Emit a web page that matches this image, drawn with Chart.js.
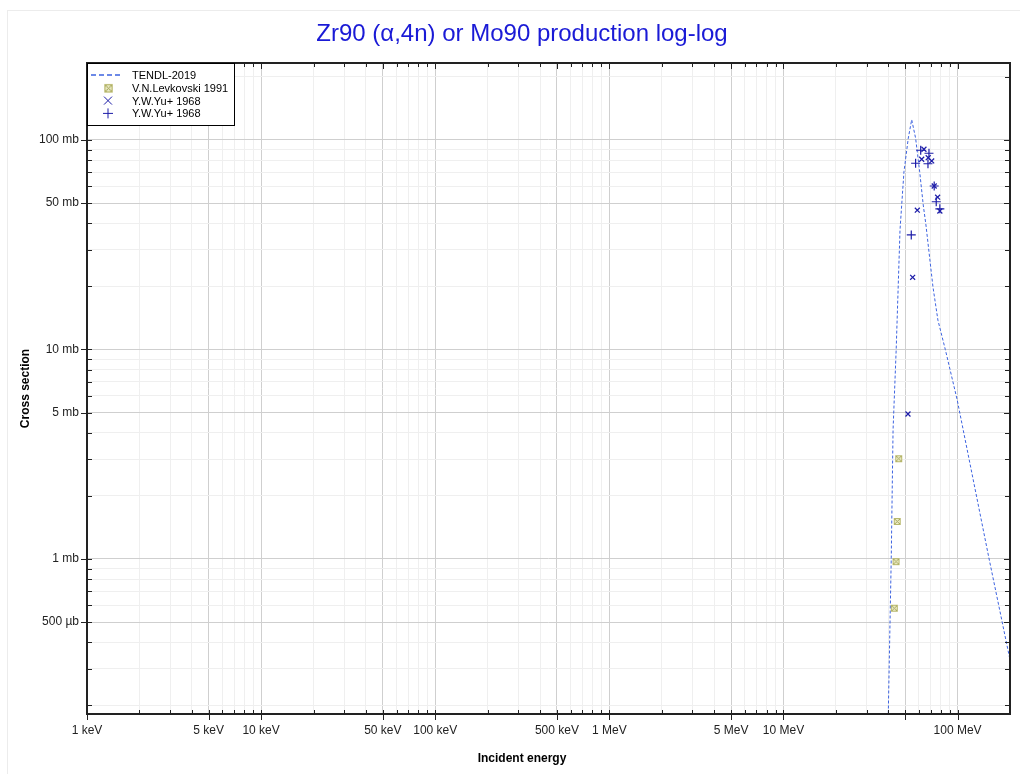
<!DOCTYPE html>
<html>
<head>
<meta charset="utf-8">
<script src="https://cdn.jsdelivr.net/npm/chart.js@4.4.1/dist/chart.umd.min.js"></script>
<style>
  body { margin: 0; background: #fff; }
  #wrap { position: relative; width: 1020px; height: 774px; overflow: hidden; }
  #frame { position: absolute; left: 7px; top: 10px; width: 1040px; height: 800px; border: 1px solid #ececec; }
  canvas { position: absolute; left: 0; top: 0; }
</style>
</head>
<body>
<div id="wrap"><div id="frame"></div><canvas id="myChart" width="1020" height="774"></canvas></div>
<script>
// energies in MeV, cross sections in mb
const tendlEnergy = [39.9, 40.0, 41.6, 42.6, 44.4, 46.7, 49.2, 52.1, 54.5, 57.4, 60.6, 63.5, 65.8, 72.2, 77.1, 85.0, 99.5, 151, 200];
const tendlXS     = [0.1, 0.184, 1.02, 4.13, 10.0, 37.2, 70.4, 102, 125, 102, 70.4, 48.9, 39.3, 19.9, 13.8, 10.0, 5.74, 1.02, 0.33];

const levEnergy = [45.9, 45.0, 44.3, 43.3];
const levXS     = [3.01, 1.51, 0.971, 0.582];

const yuXEnergy = [64.1, 62.2, 67.8, 71.0, 73.4, 76.8, 79.1, 58.7, 55.2, 51.9];
const yuXXS     = [90.3, 80.9, 82.3, 79.4, 60.3, 53.3, 45.8, 46.2, 22.1, 4.92];

const yuPEnergy = [61.4, 68.5, 57.4, 67.6, 73.4, 75.4, 79.1, 54.2];
const yuPXS     = [89.3, 86.4, 77.4, 77.0, 60.3, 50.7, 46.9, 35.2];

const xTickValues = [0.001, 0.005, 0.01, 0.05, 0.1, 0.5, 1, 5, 10, 100];
const xTickLabels = ['1 keV', '5 keV', '10 keV', '50 keV', '100 keV', '500 keV', '1 MeV', '5 MeV', '10 MeV', '100 MeV'];
const yTickValues = [0.5, 1, 5, 10, 50, 100];
const yTickLabels = ['500 \u00b5b', '1 mb', '5 mb', '10 mb', '50 mb', '100 mb'];

const xMin = 0.001, xMax = 200, yMin = 0.182, yMax = 233;
const FONT = "'Liberation Sans', Arial, sans-serif";
const blueMark = '#1c1ca8';
const tendlColor = '#3d63e0';

function toPts(xs, ys) { return xs.map((x, i) => ({x: x, y: ys[i]})); }

// 1..9 per decade between min and max
function decadeTicks(min, max) {
  const out = [];
  for (let e = Math.floor(Math.log10(min)); e <= Math.ceil(Math.log10(max)); e++) {
    for (let m = 1; m <= 9; m++) {
      const v = Number((m * Math.pow(10, e)).toPrecision(6));
      if (v >= min * 0.9999 && v <= max * 1.0001) out.push(v);
    }
  }
  return out;
}
function isMajor(v) {
  const m = Math.round(v / Math.pow(10, Math.floor(Math.log10(v) + 1e-9)));
  return m === 1 || m === 5;
}
function findLabel(vals, labels, v) {
  const i = vals.findIndex(t => Math.abs(t - v) / t < 1e-6);
  return i < 0 ? '' : labels[i];
}

// square with an X inside, for the Levkovski points
const levIcon = document.createElement('canvas');
levIcon.width = 9; levIcon.height = 9;
(function() {
  const c = levIcon.getContext('2d');
  c.fillStyle = '#ececc6';
  c.fillRect(1, 1, 7, 7);
  c.strokeStyle = '#b8b86c';
  c.lineWidth = 1;
  c.strokeRect(1.5, 1.5, 6, 6);
  c.strokeStyle = '#a4a45a';
  c.beginPath();
  c.moveTo(2, 2); c.lineTo(7, 7);
  c.moveTo(7, 2); c.lineTo(2, 7);
  c.stroke();
})();

const frameTicks = {
  id: 'frameTicks',
  afterDatasetsDraw(chart) {
    const ctx = chart.ctx, a = chart.chartArea;
    const xs = chart.scales.x, ys = chart.scales.y;
    ctx.save();
    ctx.strokeStyle = '#222';
    ctx.lineWidth = 1;
    ctx.beginPath();
    xs.ticks.forEach(t => {
      const px = Math.round(xs.getPixelForValue(t.value)) + 0.5;
      const maj = isMajor(t.value);
      ctx.moveTo(px, a.bottom - 4); ctx.lineTo(px, a.bottom + (maj ? 6 : 0));
      ctx.moveTo(px, a.top); ctx.lineTo(px, a.top + (maj ? 6 : 4));
    });
    ys.ticks.forEach(t => {
      const py = Math.round(ys.getPixelForValue(t.value)) + 0.5;
      const maj = isMajor(t.value);
      ctx.moveTo(a.left - (maj ? 6 : 0), py); ctx.lineTo(a.left + 5, py);
      ctx.moveTo(a.right, py); ctx.lineTo(a.right - (maj ? 6 : 5), py);
    });
    ctx.stroke();
    ctx.lineWidth = 2;
    ctx.strokeStyle = '#222';
    ctx.strokeRect(a.left, a.top, a.right - a.left, a.bottom - a.top);
    ctx.restore();
  },
  afterDraw(chart) {
    const ctx = chart.ctx, a = chart.chartArea;
    ctx.save();
    // main title
    ctx.fillStyle = '#1a1ad6';
    ctx.font = '24px ' + FONT;
    ctx.textAlign = 'center';
    ctx.textBaseline = 'middle';
    ctx.fillText('Zr90 (\u03b1,4n) or Mo90 production log-log', 522, 34);
    // x axis title
    ctx.fillStyle = '#000';
    ctx.font = 'bold 12px ' + FONT;
    ctx.fillText('Incident energy', 522, 759);

    // legend box
    const bx = a.left, by = a.top, bw = 148, bh = 63;
    ctx.fillStyle = '#fff';
    ctx.fillRect(bx, by, bw, bh);
    ctx.strokeStyle = '#000';
    ctx.lineWidth = 1;
    ctx.strokeRect(bx + 0.5, by + 0.5, bw - 1, bh - 1);
    const rows = chart.data.datasets.map(d => d.label);
    ctx.font = '11px ' + FONT;
    ctx.textAlign = 'left';
    rows.forEach((lab, i) => {
      const cy = by + 12 + i * 12.8, cx = bx + 21;
      if (i === 0) {
        ctx.strokeStyle = tendlColor;
        ctx.lineWidth = 1.5;
        ctx.setLineDash([5, 3]);
        ctx.beginPath(); ctx.moveTo(bx + 4, cy); ctx.lineTo(bx + 34, cy); ctx.stroke();
        ctx.setLineDash([]);
      } else if (i === 1) {
        ctx.drawImage(levIcon, cx - 5, cy - 5, 11, 11);
      } else {
        ctx.strokeStyle = blueMark;
        ctx.lineWidth = 1;
        ctx.beginPath();
        if (i === 2) {
          ctx.moveTo(cx - 4, cy - 4); ctx.lineTo(cx + 4, cy + 4);
          ctx.moveTo(cx + 4, cy - 4); ctx.lineTo(cx - 4, cy + 4);
        } else {
          ctx.moveTo(cx - 5, cy); ctx.lineTo(cx + 5, cy);
          ctx.moveTo(cx, cy - 5); ctx.lineTo(cx, cy + 5);
        }
        ctx.stroke();
      }
      ctx.fillStyle = '#000';
      ctx.fillText(lab, bx + 45, cy + 1);
    });
    ctx.restore();
  }
};

const data = {
  datasets: [{
    label: 'TENDL-2019',
    data: toPts(tendlEnergy, tendlXS),
    showLine: true,
    borderColor: tendlColor,
    borderWidth: 1,
    borderDash: [3, 2],
    pointRadius: 0,
    fill: false,
    order: 4
  }, {
    label: 'V.N.Levkovski 1991',
    data: toPts(levEnergy, levXS),
    pointStyle: levIcon,
    pointRadius: 4,
    order: 3
  }, {
    label: 'Y.W.Yu+ 1968',
    data: toPts(yuXEnergy, yuXXS),
    pointStyle: 'crossRot',
    pointRadius: 3.5,
    borderColor: blueMark,
    borderWidth: 1.2,
    order: 2
  }, {
    label: 'Y.W.Yu+ 1968',
    data: toPts(yuPEnergy, yuPXS),
    pointStyle: 'cross',
    pointRadius: 4.5,
    borderColor: blueMark,
    borderWidth: 1.2,
    order: 1
  }]
};

const config = {
  type: 'scatter',
  data: data,
  options: {
    responsive: false,
    animation: false,
    layout: { padding: { top: 63, right: 10, left: 0, bottom: 0 } },
    plugins: { legend: { display: false }, tooltip: { enabled: false }, title: { display: false } },
    scales: {
      x: {
        type: 'logarithmic',
        min: xMin, max: xMax,
        afterBuildTicks: s => { s.ticks = decadeTicks(xMin, xMax).map(v => ({value: v})); },
        afterFit: s => { s.height = 60; },
        grid: {
          drawTicks: false,
          color: c => (c.tick && isMajor(c.tick.value)) ? '#cfcfcf' : '#efefef',
          lineWidth: 1
        },
        border: { display: false },
        ticks: {
          autoSkip: false, maxRotation: 0, padding: 9,
          color: '#222', font: { family: FONT, size: 12 },
          callback: v => findLabel(xTickValues, xTickLabels, v)
        }
      },
      y: {
        type: 'logarithmic',
        min: yMin, max: yMax,
        afterBuildTicks: s => { s.ticks = decadeTicks(yMin, yMax).map(v => ({value: v})); },
        afterFit: s => { s.width = 87; },
        grid: {
          drawTicks: false,
          color: c => (c.tick && isMajor(c.tick.value)) ? '#cfcfcf' : '#efefef',
          lineWidth: 1
        },
        border: { display: false },
        title: {
          display: true, text: 'Cross section', color: '#000',
          font: { family: FONT, size: 12, weight: 'bold' },
          padding: { top: 18, bottom: 0 }
        },
        ticks: {
          autoSkip: false, padding: 8,
          color: '#222', font: { family: FONT, size: 12 },
          callback: v => findLabel(yTickValues, yTickLabels, v)
        }
      }
    }
  },
  plugins: [frameTicks]
};

const myChart = new Chart(document.getElementById('myChart').getContext('2d'), config);
</script>
</body>
</html>
